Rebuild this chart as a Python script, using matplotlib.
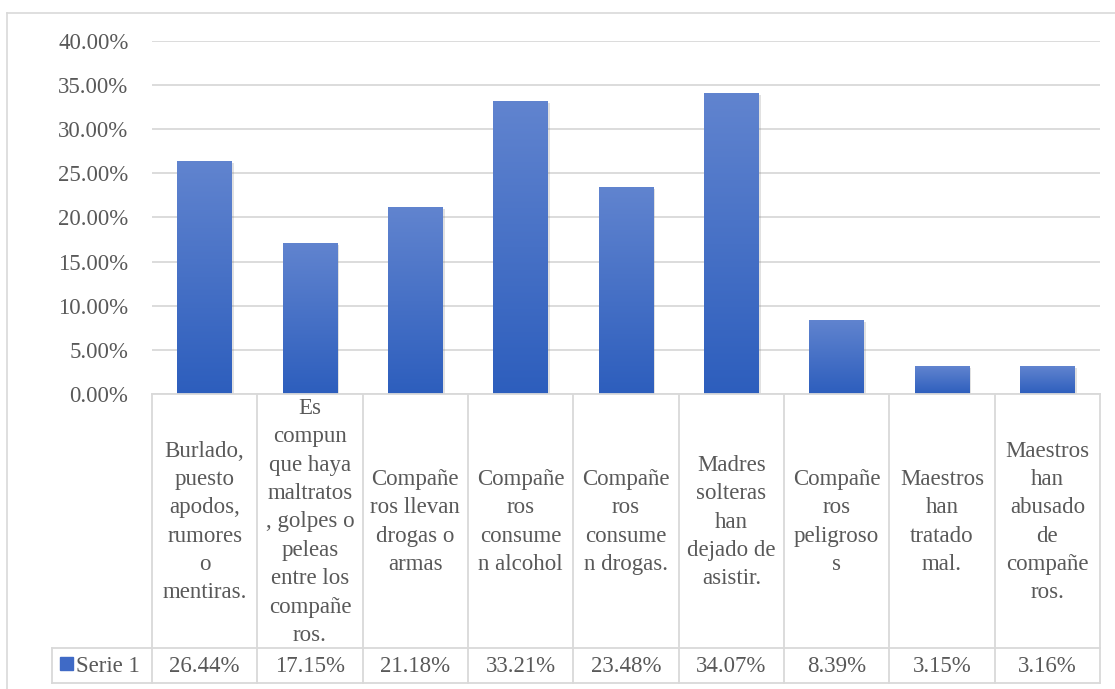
import numpy as np
import matplotlib
matplotlib.use('Agg')
import matplotlib.pyplot as plt
from matplotlib.lines import Line2D
from matplotlib.patches import Rectangle
import matplotlib.patheffects as pe

categories = [
    'Burlado,\npuesto\napodos,\nrumores\no\nmentiras.',
    'Es\ncompun\nque haya\nmaltratos\n, golpes o\npeleas\nentre los\ncompañe\nros.',
    'Compañe\nros llevan\ndrogas o\narmas',
    'Compañe\nros\nconsume\nn alcohol',
    'Compañe\nros\nconsume\nn drogas.',
    'Madres\nsolteras\nhan\ndejado de\nasistir.',
    'Compañe\nros\npeligroso\ns',
    'Maestros\nhan\ntratado\nmal.',
    'Maestros\nhan\nabusado\nde\ncompañe\nros.',
]
values = [26.44, 17.15, 21.18, 33.21, 23.48, 34.07, 8.39, 3.15, 3.16]
series_name = 'Serie 1'
yticks = [0, 5, 10, 15, 20, 25, 30, 35, 40]

W, H = 1115, 689
txt = '#595959'
grid = '#d9d9d9'
font = 'Liberation Serif'
fs = 16.5

fig = plt.figure(figsize=(W / 100, H / 100), dpi=100)

def fx(px):
    return px / W

def fy(py):
    return 1 - py / H

# outer chart border (left and top visible)
fig.add_artist(Line2D([fx(6.5), fx(6.5)], [fy(12.5), 0], color=grid, lw=1.2))
fig.add_artist(Line2D([fx(6.5), 1], [fy(12.5), fy(12.5)], color=grid, lw=1.2))

x0, x1 = 152, 1100
ax = fig.add_axes([fx(x0), fy(394), fx(x1 - x0), fy(41) - fy(394)])
n = len(values)
xs = np.arange(n) + 0.5
bars = ax.bar(xs, values, width=0.52, color='#3f6ac6', zorder=2)
grad = np.linspace(0, 1, 256).reshape(-1, 1)
cmap = matplotlib.colors.LinearSegmentedColormap.from_list('g', ['#2d5ebd', '#6184cf'])
for b in bars:
    b.set_path_effects([pe.SimplePatchShadow(offset=(1.5, -1.5), alpha=0.25, shadow_rgbFace='#888888'), pe.Normal()])
    im = ax.imshow(grad, cmap=cmap, aspect='auto', origin='lower', zorder=3,
                   extent=[b.get_x(), b.get_x() + b.get_width(), 0, b.get_height()])
    im.set_clip_path(b)
ax.set_xlim(0, n)
ax.set_ylim(0, 40)
ax.set_yticks(yticks)
ax.set_yticklabels(['%.2f%%' % v for v in yticks], fontsize=fs, color=txt, family=font)
ax.tick_params(axis='y', length=0, pad=17)
ax.set_xticks([])
ax.yaxis.grid(True, color=grid, lw=1.3, zorder=0)
ax.set_axisbelow(True)
for s in ax.spines.values():
    s.set_visible(False)

# data table under the chart
tab = fig.add_axes([fx(x0), fy(683), fx(x1 - x0), fy(394) - fy(683)])
tab.set_xlim(0, n)
tab.set_ylim(289, 0)
tab.axis('off')
cw = (x1 - x0) / n
lc = dict(color=grid, lw=1.3, clip_on=False)
tab.plot([0, n], [0, 0], **lc)
tab.plot([-100 / cw, n], [254, 254], **lc)
tab.plot([-100 / cw, n], [289, 289], **lc)
tab.plot([-100 / cw, -100 / cw], [254, 289], **lc)
for k in range(n + 1):
    tab.plot([k, k], [0, 289], **lc)
for i, (lab, v) in enumerate(zip(categories, values)):
    tab.text(i + 0.5, 128, lab, ha='center', va='center', fontsize=fs, color=txt,
             family=font, linespacing=1.46)
    tab.text(i + 0.5, 272, '%.2f%%' % v, ha='center', va='center', fontsize=fs,
             color=txt, family=font)
tab.add_patch(Rectangle((-92 / cw, 263), 13 / cw, 13, color='#3f6ac6', clip_on=False))
tab.text(-76 / cw, 272, series_name, ha='left', va='center', fontsize=fs, color=txt,
         family=font, clip_on=False)

fig.savefig('out.png', dpi=100)
